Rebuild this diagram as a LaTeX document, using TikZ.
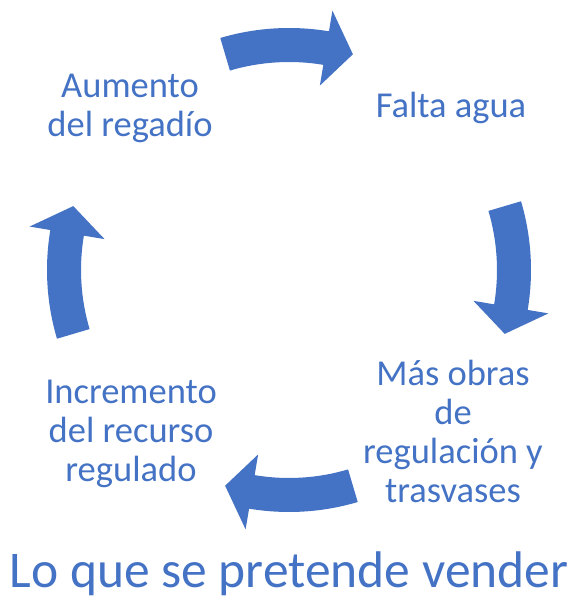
\documentclass[tikz,border=0pt]{standalone}
\usepackage{fontspec}
\setmainfont{Carlito}
\usetikzlibrary{calc}
\definecolor{CycBlue}{HTML}{4472C4}

\begin{document}
\begin{tikzpicture}[x=1pt, y=1pt,
    item/.style={text=CycBlue, align=center, anchor=base, inner sep=0pt, font=\fontsize{36.5}{39}\selectfont},
    title/.style={text=CycBlue, anchor=base, inner sep=0pt, font=\fontsize{51.5}{60}\selectfont},
    cyc/.style={fill=CycBlue}
  ]
  \useasboundingbox (0,0) rectangle (575,601);
  \coordinate (c) at (289,331);

  % base = baseline of the last line
  \node[item] (riego) at (130,464) {Aumento\\del regadío};
  \node[item] (falta) at (451,483) {Falta agua};
  \node[item] (obras) at (453,98) {Más obras\\de\\regulación y\\trasvases};
  \node[item] (recurso) at (131,119) {Incremento\\del recurso\\regulado};
  \node[title] (lema) at (289,13) {Lo que se pretende vender};

  % flechas curvas del ciclo
  \foreach \a in {90,0,-90,-180} {
    \fill[cyc] ($(c)+(\a+16.5:242)$) arc[start angle=\a+16.5, end angle=\a-9.5, radius=242]
      -- ($(c)+(\a-9.5:263)$) -- ($(c)+(\a-16.5:225)$) -- ($(c)+(\a-9.5:187)$)
      -- ($(c)+(\a-9.5:208)$) arc[start angle=\a-9.5, end angle=\a+16.5, radius=208] -- cycle;
  }
\end{tikzpicture}
\end{document}
